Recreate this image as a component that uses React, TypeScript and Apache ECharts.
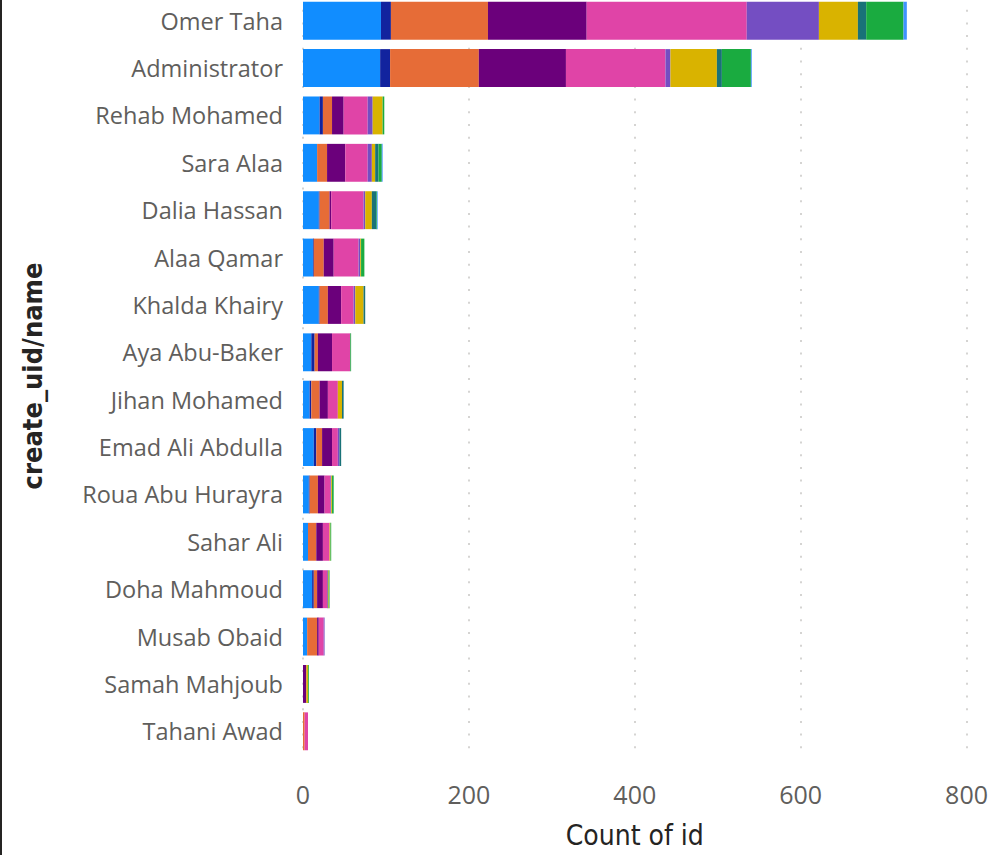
import React, { useEffect, useRef } from "react";
import * as echarts from "echarts";

const categories = [
  "Omer Taha",
  "Administrator",
  "Rehab Mohamed",
  "Sara Alaa",
  "Dalia Hassan",
  "Alaa Qamar",
  "Khalda Khairy",
  "Aya Abu-Baker",
  "Jihan Mohamed",
  "Emad Ali Abdulla",
  "Roua Abu Hurayra",
  "Sahar Ali",
  "Doha Mahmoud",
  "Musab Obaid",
  "Samah Mahjoub",
  "Tahani Awad",
];

// one array per stacked segment (left to right), values per category (top to bottom)
const s1 = [94, 93, 20, 17, 19, 12, 19, 10, 8, 13, 7, 6, 11, 5, 0, 0];
const s2 = [12, 12, 4, 0, 1, 1, 1, 4, 2, 3, 1, 0, 2, 0, 0, 0];
const s3 = [117, 107, 11, 12, 12, 12, 10, 4, 10, 7, 10, 10, 4, 12, 0, 2];
const s4 = [119, 105, 14, 22, 2, 12, 16, 17, 10, 12, 8, 8, 7, 2, 4, 0];
const s5 = [193, 120, 29, 27, 39, 30, 15, 22, 12, 7, 7, 8, 5, 6, 0, 4];
const s6 = [87, 6, 6, 5, 2, 2, 2, 0, 0, 2, 1, 0, 1, 1, 0, 0];
const s7 = [47, 56, 12, 4, 8, 1, 10, 0, 5, 0, 1, 1, 1, 0, 2, 0];
const s8 = [10, 6, 0, 4, 5, 0, 2, 0, 2, 2, 0, 0, 0, 0, 0, 0];
const s9 = [45, 35, 2, 4, 1, 4, 0, 1, 0, 0, 2, 1, 1, 0, 1, 0];
const s10 = [4, 1, 0, 1, 1, 0, 0, 0, 0, 0, 0, 0, 0, 0, 0, 0];

const seriesData = [s1, s2, s3, s4, s5, s6, s7, s8, s9, s10];
const seriesNames = ["S1", "S2", "S3", "S4", "S5", "S6", "S7", "S8", "S9", "S10"];
const colors = [
  "#118DFF",
  "#12239E",
  "#E66C37",
  "#6B007B",
  "#E044A7",
  "#744EC2",
  "#D9B300",
  "#197278",
  "#1AAB40",
  "#4092FF",
];

const xTicks = { min: 0, max: 800, interval: 200 };

export default function App() {
  const ref = useRef<HTMLDivElement>(null);
  useEffect(() => {
    document.body.style.margin = "0";
    if (!ref.current) return;
    const chart = echarts.init(ref.current, null, { renderer: "svg" });
    chart.setOption({
      animation: false,
      backgroundColor: "#FFFFFF",
      grid: { left: 303, right: 22, top: 0, bottom: 100, containLabel: false },
      graphic: [
        { type: "rect", left: 0, top: 0, shape: { width: 2, height: 858 }, style: { fill: "#252423" }, z: 10 },
      ],
      xAxis: {
        type: "value",
        min: xTicks.min,
        max: xTicks.max,
        interval: xTicks.interval,
        name: "Count of id",
        nameLocation: "middle",
        nameGap: 66,
        nameTextStyle: {
          fontFamily: "'DejaVu Sans Condensed', 'DejaVu Sans', sans-serif",
          fontSize: 28,
          color: "#252423",
        },
        axisLine: { show: false },
        axisTick: { show: false },
        axisLabel: {
          fontFamily: "'Open Sans', sans-serif",
          fontSize: 25,
          color: "#605E5C",
          margin: 26,
        },
        splitLine: {
          show: true,
          lineStyle: { color: "#C8C6C4", width: 1.5, type: [2, 10.7] },
        },
      },
      yAxis: {
        type: "category",
        data: categories,
        inverse: true,
        name: "create_uid/name",
        nameLocation: "middle",
        nameRotate: 90,
        nameGap: 257,
        nameTextStyle: {
          fontFamily: "'DejaVu Sans Condensed', 'DejaVu Sans', sans-serif",
          fontSize: 27,
          fontWeight: "bold",
          color: "#252423",
        },
        axisLine: { show: false },
        axisTick: { show: false },
        axisLabel: {
          fontFamily: "'Open Sans', sans-serif",
          fontSize: 23.5,
          color: "#605E5C",
          margin: 20,
        },
      },
      series: seriesData.map((d, i) => ({
        type: "bar",
        name: seriesNames[i],
        stack: "total",
        data: d,
        barCategoryGap: "20%",
        itemStyle: { color: colors[i] },
      })),
    });
    return () => chart.dispose();
  }, []);
  return (
    <div style={{ width: 991, height: 855, overflow: "hidden", position: "relative" }}>
      <div ref={ref} style={{ width: 991, height: 858, position: "absolute", left: 0, top: -3 }} />
    </div>
  );
}
